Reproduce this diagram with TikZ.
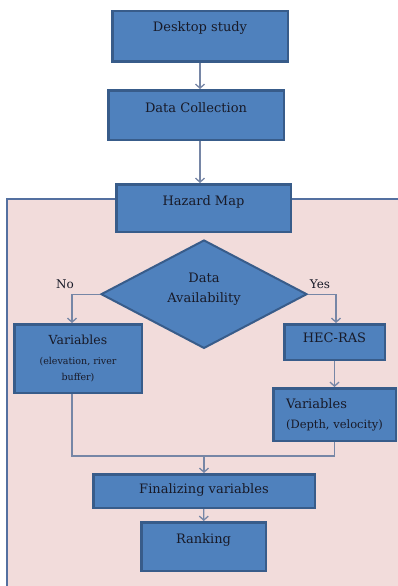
\documentclass[tikz,border=0pt]{standalone}
\usepackage{fontspec}
\setmainfont{DejaVu Serif}
\usepackage{xcolor}
\usepackage{tikz}
\usetikzlibrary{arrows.meta, positioning, shapes.geometric}

\definecolor{boxblue}{RGB}{79,129,189}
\definecolor{boxedge}{RGB}{56,92,138}
\definecolor{regionpink}{RGB}{242,220,219}
\definecolor{regionedge}{RGB}{84,112,160}
\definecolor{linkgray}{RGB}{118,134,166}
\definecolor{textdark}{RGB}{24,26,40}

\begin{document}
\begin{tikzpicture}[
  x=1pt, y=-1pt,
  box/.style={draw=boxedge, fill=boxblue, line width=2.5pt, text=textdark,
    align=center, inner sep=0pt, font=\fontsize{13}{20}\selectfont},
  decision/.style={box, diamond, line width=2pt},
  region/.style={draw=regionedge, fill=regionpink, line width=1.6pt},
  arrow/.style={draw=linkgray, line width=1.3pt, -{Straight Barb[length=4pt, width=9pt]}},
  link/.style={draw=linkgray, line width=1.3pt},
  answer/.style={text=textdark, font=\fontsize{12}{14}\selectfont}
]
\useasboundingbox (0,0) rectangle (398,586);
\clip (0,0) rectangle (398,586);

% Background
\draw[region] (7,199) rectangle (420,600);

% Nodes
\node[box, minimum width=175.5pt, minimum height=50.5pt, text height=10pt, text depth=20pt] (n1) at (200,36.5) {Desktop study};
\node[box, minimum width=175.5pt, minimum height=49.5pt, text height=10pt, text depth=15pt,
  below=26pt of n1, xshift=-4pt] (n2) {Data Collection};
\node[box, minimum width=174.5pt, minimum height=47.5pt, text height=10pt, text depth=15pt,
  below=42pt of n2, xshift=7.5pt] (n3) {Hazard Map};
\node[decision, minimum width=206pt, minimum height=107pt, text height=26pt, text depth=9pt,
  below=6pt of n3, xshift=0.5pt] (n4) {Data\\Availability};
\node[box, minimum width=127.5pt, minimum height=68.5pt, font=\fontsize{12.5}{16}\selectfont] (n5) at (78,358.5)
  {Variables\\[4pt]{\fontsize{9.5}{10}\selectfont (elevation, river}\\{\fontsize{9.5}{10}\selectfont buffer)}};
\node[box, minimum width=100.5pt, minimum height=35.5pt, text height=10pt, text depth=9pt] (n6) at (334.5,342) {HEC-RAS};
\node[box, minimum width=122.5pt, minimum height=52.5pt, align=left, font=\fontsize{13}{20}\selectfont,
  below=26pt of n6] (n7) {Variables\\{\fontsize{11.5}{12}\selectfont (Depth, velocity)}};
\coordinate (mrg) at (204,456);
\node[box, minimum width=221.5pt, minimum height=33.5pt, text height=10pt, text depth=5pt] (n8) at (204,491) {Finalizing variables};
\node[box, minimum width=124.5pt, minimum height=48.5pt, text height=10pt, text depth=16pt,
  below=12pt of n8, xshift=-0.5pt] (n9) {Ranking};
\node[answer] (no) at (65,284) {No};
\node[answer] (yes) at (320,284) {Yes};

% Pointers
\draw[arrow] (n1.south) -- (n2.north -| n1.south);
\draw[arrow] (n2.south -| n1.south) -- (n3.north -| n1.south);
\draw[arrow] (n4.west) -| ([xshift=-6pt]n5.north);
\draw[arrow] (n4.east) -| ([xshift=1.5pt]n6.north);
\draw[arrow] (n6) -- (n7);
\draw[link] ([xshift=-6pt]n5.south) |- (mrg) -| (n7.south);
\draw[arrow] (mrg) -- (n8);
\draw[arrow] (n8) -- (n9);
\end{tikzpicture}
\end{document}
